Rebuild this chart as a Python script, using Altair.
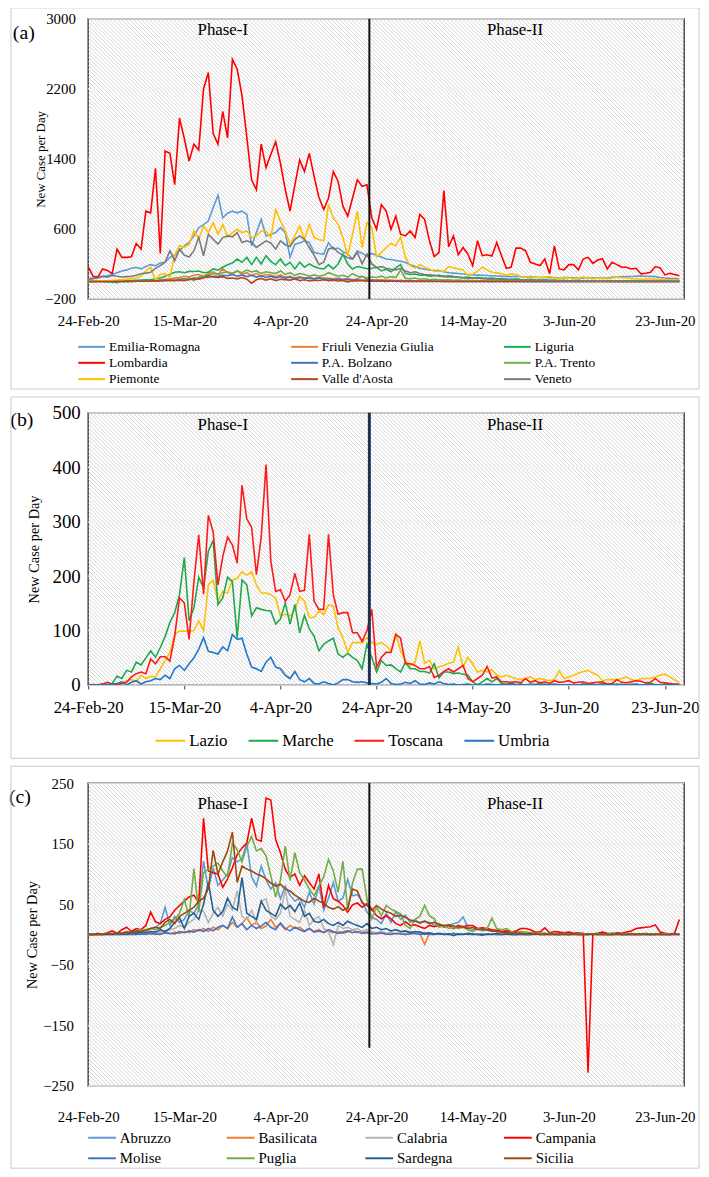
import altair as alt
import pandas as pd

FONT = "Liberation Serif"
DAYS = list(range(124))
X_TICKS = [0, 20, 40, 60, 80, 100, 120]
X_DOMAIN = [0, 124]
PHASE_DAY = 58.5
PHASE_LABELS = ["Phase-I", "Phase-II"]
PHASE_LABEL_DAYS = [28.0, 88.8]

# ---------------- panel (a) ----------------
A_NAMES = ["Emilia-Romagna", "Friuli Venezia Giulia", "Liguria", "Lombardia", "P.A. Bolzano",
           "P.A. Trento", "Piemonte", "Valle d'Aosta", "Veneto"]
A_COLORS = ["#5B9BD5", "#ED7D31", "#1AAF54", "#FF0000", "#4472C4", "#70AD47", "#FFC000", "#B5451B", "#7A7A7A"]
A_Y_TICKS = [-200, 600, 1400, 2200, 3000]

emilia = [30, 40, 55, 60, 64, 80, 100, 120, 132, 150,
          162, 143, 170, 192, 180, 210, 219, 275, 300, 350,
          407, 445, 520, 614, 650, 690, 841, 984, 728, 780,
          803, 784, 803, 765, 407, 560, 709, 520, 540, 558,
          614, 560, 275, 426, 440, 464, 445, 332, 320, 313,
          445, 369, 381, 340, 313, 256, 351, 320, 290, 320,
          300, 280, 256, 250, 240, 230, 219, 190, 170, 150,
          140, 130, 125, 124, 110, 100, 95, 90, 85, 80,
          75, 72, 70, 68, 65, 62, 60, 58, 55, 60,
          55, 52, 50, 49, 45, 48, 42, 45, 40, 42,
          45, 40, 42, 38, 45, 40, 42, 45, 40, 48,
          50, 52, 55, 57, 60, 62, 60, 58, 55, 45,
          40, 35, 32, 30]
friuli = [0, 0, 0, 0, 1, 2, 3, 2, 4, 5,
          6, 8, 5, 10, 10, 20, 25, 30, 40, 45,
          60, 50, 70, 80, 60, 90, 110, 80, 143, 100,
          90, 120, 80, 100, 70, 90, 60, 80, 70, 55,
          75, 50, 60, 40, 55, 35, 50, 30, 45, 40,
          35, 30, 40, 25, 35, 20, 30, 60, 25, 20,
          15, 20, 12, 15, 10, 12, 8, 10, 6, 8,
          5, 7, 4, 6, 3, 5, 4, 3, 5, 2,
          4, 3, 2, 3, 1, 2, 3, 1, 2, 1,
          2, 1, 0, 1, 2, 1, 0, 1, 1, 0,
          1, 0, 2, 1, 0, 1, 0, 1, 2, 0,
          1, 0, 1, 0, 2, 1, 0, 1, 0, 1,
          0, 1, 0, 1]
liguria = [0, 0, 2, 3, 0, -10, -15, 5, 8, 10,
           12, 15, 18, 20, 30, 40, 60, 80, 106, 110,
           100, 115, 113, 120, 100, 106, 143, 130, 162, 190,
           210, 256, 219, 275, 192, 275, 200, 294, 230, 192,
           256, 181, 219, 143, 219, 162, 200, 170, 150, 143,
           190, 143, 200, 313, 200, 143, 170, 160, 145, 150,
           162, 120, 140, 110, 155, 192, 90, 80, 85, 70,
           75, 60, 65, 70, 60, 65, 55, 50, 45, 50,
           40, 45, 40, 35, 38, 30, 32, 28, 25, 30,
           22, 20, 25, 18, 15, 20, 12, 15, 10, 12,
           8, 10, 12, 8, 10, 6, 8, 10, 6, 8,
           5, 6, 8, 5, 4, 6, 5, 8, 6, 4,
           5, 3, 4, 2]
lombardia = [170, 60, 49, 143, 125, 90, 369, 275, 275, 283,
             434, 369, 803, 784, 1293, 320, 1489, 1463, 1105, 1866,
             1633, 1376, 1568, 1501, 2198, 2387, 1689, 1568, 1942, 1640,
             2537, 2424, 2123, 1650, 1161, 1048, 1568, 1301, 1450, 1595,
             1350, 1050, 803, 1100, 1388, 1256, 1463, 1200, 962, 822,
             950, 1256, 1142, 860, 746, 954, 1161, 1086, 1105, 728,
             596, 878, 803, 596, 746, 539, 520, 577, 501, 765,
             709, 464, 283, 332, 1037, 396, 520, 305, 388, 313,
             181, 464, 294, 305, 290, 445, 294, 151, 162, 381,
             381, 351, 219, 200, 181, 256, 87, 407, 143, 132,
             192, 192, 132, 256, 275, 207, 245, 260, 143, 219,
             192, 162, 162, 143, 151, 87, 94, 106, 170, 155,
             75, 94, 79, 64]
bolzano = [0, 0, 0, 0, 0, 1, 0, 2, 1, 3,
           2, 4, 3, 5, 8, 10, 15, 12, 20, 25,
           30, 22, 40, 35, 50, 45, 60, 55, 70, 65,
           80, 60, 75, 55, 70, 50, 65, 45, 60, 40,
           55, 35, 50, 30, 45, 40, 35, 30, 40, 25,
           30, 20, 25, 18, 22, 15, 20, 12, 15, 10,
           12, 8, 10, 6, 8, 5, 6, 4, 5, 3,
           4, 3, 2, 3, 1, 2, 1, 2, 1, 1,
           0, 1, 1, 0, 1, 0, 1, 0, 0, 1,
           0, 0, 1, 0, 0, 1, 0, 0, 1, 0,
           0, 0, 1, 0, 0, 0, 1, 0, 0, 0,
           1, 0, 0, 0, 1, 0, 0, 0, 1, 0,
           0, 0, 1, 0]
trento = [0, 0, 0, 1, 0, 2, 0, 1, 2, 0,
          3, 2, 4, 3, 5, 5, 10, 15, 20, 25,
          10, 40, 11, 50, 60, 70, 90, 80, 100, 110,
          90, 120, 100, 130, 110, 120, 90, 110, 100, 90,
          120, 80, 100, 70, 90, 80, 60, 75, 60, 70,
          100, 80, 60, 70, 50, 90, 60, 55, 40, 50,
          45, 60, 40, 55, 45, 130, 35, 30, 40, 25,
          30, 20, 25, 20, 15, 18, 12, 15, 10, 12,
          8, 10, 6, 8, 5, 7, 4, 6, 3, 5,
          4, 3, 5, 2, 4, 3, 2, 4, 3, 2,
          3, 2, 1, 3, 2, 1, 2, 3, 1, 2,
          1, 2, 1, 0, 2, 1, 1, 2, 0, 1,
          1, 0, 1, 0]
piemonte = [0, 2, 5, 8, 3, 10, 15, 20, 25, 30,
            40, 60, 120, 162, 11, 80, 90, 49, 300, 407,
            390, 426, 577, 483, 633, 560, 671, 539, 652, 509,
            558, 596, 558, 577, 501, 520, 577, 577, 501, 822,
            690, 577, 426, 520, 633, 482, 652, 501, 480, 464,
            878, 728, 652, 500, 294, 539, 803, 388, 671, 614,
            283, 332, 388, 434, 407, 509, 275, 181, 155, 192,
            162, 140, 117, 117, 115, 170, 155, 143, 130, 68,
            85, 115, 162, 130, 106, 98, 87, 70, 87, 80,
            57, 50, 60, 49, 42, 49, 57, 42, 30, 49,
            42, 30, 42, 49, 42, 30, 38, 42, 30, 38,
            49, 42, 42, 30, 30, 25, 30, 28, 25, 25,
            22, 20, 20, 18]
valle = [0, 0, 0, 0, 0, 0, 1, 0, 2, 1,
         3, 2, 5, 4, 8, 6, 10, 12, 8, 15,
         11, 20, 30, 25, 40, 68, 50, 45, 55, 35,
         40, 30, 45, 25, -20, 20, 35, 15, 30, 10,
         25, 20, 15, 30, 10, 20, 5, 15, 10, 20,
         8, 15, 5, 10, -5, 8, 5, 10, 3, 6,
         2, 5, 1, 3, 2, 0, 1, 2, 0, 1,
         0, 1, 0, 0, 1, 0, 0, 1, 0, 0,
         0, 0, 1, 0, 0, 0, 0, 1, 0, 0,
         0, 0, 0, 1, 0, 0, 0, 0, 0, 0,
         1, 0, 0, 0, 0, 0, 0, 0, 1, 0,
         0, 0, 0, 0, 0, 0, 0, 1, 0, 0,
         0, 0, 0, 0]
veneto = [20, 30, 40, 57, 50, 68, 60, 50, 55, 57,
          70, 87, 95, 106, 150, 180, 219, 351, 237, 369,
          300, 280, 351, 501, 294, 539, 482, 426, 501, 520,
          510, 558, 445, 464, 445, 388, 426, 464, 440, 369,
          464, 420, 400, 482, 520, 482, 388, 300, 192, 219,
          369, 388, 332, 300, 270, 256, 332, 200, 313, 200,
          160, 170, 150, 140, 132, 150, 120, 100, 110, 90,
          80, 75, 70, 60, 55, 50, 55, 45, 40, 38,
          35, 40, 30, 28, 25, 30, 22, 20, 18, 20,
          15, 12, 15, 10, 12, 8, 10, 8, 6, 8,
          5, 6, 4, 5, 3, 6, 4, 3, 5, 2,
          4, 3, 5, 4, 2, 6, 5, 4, 8, 6,
          5, 4, 3, 5]
A_SERIES = [emilia, friuli, liguria, lombardia, bolzano, trento, piemonte, valle, veneto]

# ---------------- panel (b) ----------------
B_NAMES = ["Lazio", "Marche", "Toscana", "Umbria"]
B_COLORS = ["#FFC000", "#20A84A", "#FF1A1A", "#1F77C8"]
B_Y_TICKS = [0, 100, 200, 300, 400, 500]

lazio = [0, 0, 0, 1, 0, 2, 3, 5, 8, 10,
         6, 18, 12, 16, 15, 30, 45, 60, 93, 99,
         99, 99, 100, 118, 100, 184, 193, 154, 172, 169,
         193, 196, 208, 202, 208, 184, 169, 169, 166, 160,
         127, 130, 127, 137, 163, 154, 124, 124, 136, 130,
         147, 145, 105, 87, 60, 78, 78, 78, 87, 78,
         75, 78, 72, 63, 93, 63, 45, 36, 42, 81,
         40, 45, 30, 33, 36, 40, 42, 70, 33, 51,
         39, 24, 27, 24, 28, 18, 15, 18, 15, 12,
         10, 12, 15, 10, 12, 10, 8, 10, 26, 12,
         15, 18, 22, 25, 27, 22, 18, 8, 10, 10,
         10, 12, 15, 10, 8, 12, 12, 12, 15, 18,
         20, 15, 10, 5]
marche = [0, 0, 0, 2, 0, 3, 16, 12, 27, 24,
          42, 37, 50, 63, 51, 69, 89, 115, 133, 166,
          234, 118, 142, 198, 178, 246, 266, 148, 160, 198,
          190, 87, 193, 184, 127, 142, 139, 137, 136, 112,
          121, 151, 112, 148, 96, 128, 103, 90, 63, 75,
          81, 86, 57, 51, 58, 51, 45, 30, 75, 51,
          24, 45, 36, 37, 30, 24, 42, 30, 30, 25,
          25, 22, 39, 13, 24, 24, 21, 22, 20, 18,
          6, 0, 6, 12, 6, 12, 3, 2, 3, 1,
          2, 0, 2, 1, 3, 0, 1, 2, 0, 1,
          -2, 1, 0, 2, 1, 0, 1, 3, 0, 1,
          2, 1, 0, 2, 1, 0, 1, 3, 1, 0,
          2, 1, 0, 1]
toscana = [0, 1, 0, 2, 5, 2, 0, 3, 5, 15,
           21, 24, 21, 48, 39, 52, 52, 44, 90, 160,
           151, 84, 190, 276, 167, 312, 281, 184, 236, 272,
           257, 224, 367, 305, 290, 203, 272, 405, 227, 172,
           175, 154, 166, 205, 172, 174, 277, 154, 139, 139,
           277, 166, 130, 133, 133, 96, 96, 80, 100, 139,
           33, 51, 60, 60, 93, 86, 39, 39, 36, 30,
           30, 34, 14, 18, 25, 30, 24, 30, 36, 12,
           6, 12, 18, 34, 13, 15, 6, 6, 5, 6,
           4, 12, 5, 8, 4, 6, 3, 8, 5, 6,
           8, 4, 5, 6, 3, 4, 5, 6, 2, 3,
           10, 5, 4, 6, 8, 7, 4, 5, 12, 5,
           4, 3, 2, 2]
umbria = [0, 0, 0, 0, 1, 2, 3, 6, 0, 5,
          8, 2, 6, 8, 12, 10, 18, 12, 30, 36,
          27, 39, 50, 66, 87, 62, 60, 57, 70, 63,
          93, 84, 86, 57, 33, 30, 25, 42, 51, 33,
          30, 18, 12, 25, 10, 6, 12, 3, 2, 6,
          3, 0, 4, 10, 10, 6, 5, 6, 4, 3,
          2, 5, 12, 3, 1, 2, 5, 3, 8, 2,
          1, 4, 2, 6, 3, 1, 2, 0, 1, 2,
          0, 1, 0, 2, 1, 0, 1, 0, 2, 0,
          1, 0, 0, 1, 0, 2, 0, 1, 0, 0,
          1, 0, 0, 2, 0, 1, 0, 0, 1, 0,
          0, 1, 0, 0, 2, 0, 1, 0, 0, 1,
          0, 0, 1, 0]
B_SERIES = [lazio, marche, toscana, umbria]

# ---------------- panel (c) ----------------
C_NAMES = ["Abruzzo", "Basilicata", "Calabria", "Campania", "Molise", "Puglia", "Sardegna", "Sicilia"]
C_COLORS = ["#5B9BD5", "#ED7D31", "#B4B4B4", "#FF0000", "#4472C4", "#70AD47", "#255E91", "#9E480E"]
C_Y_TICKS = [-250, -150, -50, 50, 150, 250]

abruzzo = [0, 0, 0, 1, 0, 2, 1, 3, 2, 5,
           4, 8, 6, 10, 12, 18, 45, 15, 30, 20,
           25, 40, 35, 50, 121, 75, 110, 81, 90, 100,
           127, 120, 125, 151, 95, 80, 113, 90, 75, 85,
           59, 80, 65, 55, 60, 45, 70, 50, 81, 40,
           60, 86, 55, 60, 91, 64, 66, 55, 37, 28,
           25, 18, 35, 20, 38, 25, 32, 20, 25, 18,
           22, 20, 15, 18, 12, 15, 18, 20, 29, 12,
           8, 10, 6, 8, 5, 6, 4, 6, 3, 5,
           2, 3, 1, 2, 1, 3, 0, 1, 2, 1,
           0, 1, 2, 0, 1, 0, 1, 2, 0, 1,
           0, 1, 0, 2, 1, 0, 1, 0, 1, 0,
           1, 0, 0, 1]
basilicata = [0, 0, 0, 0, 0, 0, 0, 0, 1, 0,
              1, 0, 2, 1, 0, 2, 3, 1, 4, 2,
              5, 3, 8, 6, 10, 5, 12, 8, 15, 10,
              20, 12, 18, 28, 15, 20, 10, 14, 25, 12,
              18, 8, 15, 10, 12, 6, 10, 5, 8, 4,
              6, 3, 5, 2, 4, 8, 3, 5, 2, 3,
              1, 2, 0, 3, 1, 2, 0, 5, 1, 2,
              -16, 2, 1, 0, 1, 0, 2, 0, 1, 0,
              0, 1, 0, 0, 1, 0, 0, 0, 1, 0,
              0, 0, 0, 1, 0, 0, 0, 0, 0, 1,
              0, 0, 0, 0, 0, 0, 1, 0, 0, 0,
              0, 0, 1, 0, 0, 0, 0, 0, 0, 0,
              0, 0, 0, 0]
calabria = [0, 0, 0, 0, 0, 1, 0, 0, 2, 1,
            0, 2, 1, 3, 2, 4, 5, 8, 10, 15,
            12, 20, 25, 40, 38, 20, 35, 45, 30, 50,
            40, 72, 30, 25, 40, 20, 55, 59, 30, 25,
            35, 75, 30, 25, 20, 40, 15, 25, 30, 10,
            5, -17, 15, 10, 12, 8, 10, 5, 8, 5,
            3, 5, 2, 4, 1, 3, 2, 1, 3, 0,
            2, 1, 0, 1, 2, 0, 1, 0, 1, 0,
            0, 1, 0, 0, 1, 0, 0, 1, 0, 0,
            0, 0, 1, 0, 0, 0, 1, 0, 0, 0,
            0, 0, 0, 1, 0, 0, 0, 0, 1, 0,
            0, 0, 0, 0, 1, 0, 0, 0, 0, 0,
            0, 1, 0, 0]
campania = [0, 0, 2, 0, 3, 6, 2, 8, 12, 5,
            10, 8, 15, 37, 21, 18, 25, 29, 40, 48,
            55, 62, 65, 53, 192, 105, 102, 100, 78, 92,
            110, 132, 143, 151, 192, 157, 154, 225, 222, 157,
            135, 108, 94, 100, 81, 97, 86, 75, 100, 45,
            81, 59, 55, 48, 37, 49, 52, 45, 51, 42,
            31, 26, 31, 26, 18, 15, 21, 15, 16, 13,
            10, 15, 13, 15, 13, 15, 10, 15, 13, 15,
            15, 10, 11, 10, 8, 7, 5, 6, 4, 6,
            10, 10, 8, 4, 4, 11, 3, 5, 4, 3,
            4, 2, 3, 2, -228, 1, 2, 4, 2, 1,
            3, 2, 4, 6, 10, 11, 12, 13, 16, 4,
            2, 1, 2, 25]
molise = [0, 0, 0, 0, 0, 0, 0, 0, 0, 0,
          0, 1, 0, 2, 1, 0, 3, 2, 1, 5,
          3, 6, 4, 8, 5, 10, 6, 12, 15, 10,
          29, 12, 18, 8, 15, 10, 14, 20, 12, 8,
          19, 10, 6, 12, 8, 5, 10, 4, 6, 3,
          8, 5, 2, 4, 6, 3, 5, 2, 4, 1,
          2, 3, 1, 0, 2, 1, 0, 1, 2, 0,
          1, 0, 0, 1, 0, 0, 2, 0, 0, 1,
          0, 0, 1, 0, 0, 0, 0, 1, 0, 0,
          0, 0, 0, 0, 1, 0, 0, 0, 0, 0,
          0, 0, 0, 0, 0, 1, 0, 0, 0, 0,
          0, 0, 0, 0, 0, 0, 0, 0, 1, 0,
          0, 0, 0, 0]
puglia = [0, 0, 0, 1, 2, 0, 3, 2, 5, 3,
          6, 8, 5, 10, 8, 12, 15, 20, 25, 35,
          58, 29, 109, 37, 102, 108, 113, 118, 105, 95,
          151, 140, 120, 145, 162, 138, 142, 130, 97, 62,
          90, 146, 89, 135, 102, 90, 75, 64, 80, 95,
          124, 105, 70, 121, 40, 85, 108, 108, 59, 26,
          45, 31, 48, 42, 38, 34, 15, 10, 25, 30,
          48, 31, 26, 12, 15, 10, 12, 10, 12, 8,
          5, 10, 8, 10, 27, 10, 8, 10, 5, 3,
          5, 4, 3, 2, 3, 1, 2, 1, 0, 2,
          1, 0, 2, 1, 0, 1, 2, 0, 1, 3,
          1, 0, 2, 1, 0, 1, 2, 1, 0, 1,
          2, 0, 1, 0]
sardegna = [0, 0, 0, 0, 1, 0, 2, 1, 0, 3,
            2, 4, 3, 5, 4, 8, 5, 10, 20, 28,
            10, 30, 35, 25, 50, 86, 40, 30, 38, 60,
            45, 40, 94, 35, 30, 25, 55, 40, 35, 30,
            50, 42, 48, 38, 52, 30, 35, 22, 20, 25,
            18, 15, 20, 15, 22, 18, 15, 12, 18, 10,
            12, 8, 10, 6, 8, 5, 6, 3, 5, 4,
            2, 3, 1, 2, 0, 1, -2, 1, 0, 2,
            1, 0, -1, 1, 0, 2, 0, 1, 0, 0,
            1, 0, 0, 1, 0, 0, 1, 0, 0, 0,
            0, 1, 0, 0, 0, 1, 0, 0, 0, 0,
            1, 0, 0, 0, 0, 1, 0, 0, 0, 0,
            0, 0, 1, 0]
sicilia = [0, 0, 1, 0, 2, 1, 3, 2, 4, 3,
           6, 5, 8, 10, 12, 10, 20, 25, 18, 30,
           35, 40, 45, 55, 60, 75, 139, 100, 120, 138,
           169, 86, 113, 108, 105, 100, 97, 92, 85, 80,
           83, 75, 72, 65, 60, 55, 53, 60, 55, 52,
           45, 42, 46, 40, 44, 75, 72, 52, 48, 40,
           48, 42, 38, 35, 30, 32, 28, 24, 22, 20,
           22, 18, 20, 17, 15, 16, 14, 12, 13, 10,
           12, 8, 9, 7, 6, 5, 4, 3, 2, 3,
           2, 1, 2, 1, 0, 1, 0, 1, 0, 1,
           0, 1, 0, 0, 1, 0, 0, 1, 0, 0,
           1, 0, 0, 1, 0, 0, 1, 0, 0, 1,
           0, 0, 1, 0]
C_SERIES = [abruzzo, basilicata, calabria, campania, molise, puglia, sardegna, sicilia]

# ---------------- styling ----------------
W = 602
HATCH_SPACING = 4.0
HATCH_COLOR = "#c6c6c6"
GRID_COLOR = "#f4efef"
BORDER_COLOR = "#c9c9c9"
LABEL_EXPR = "timeFormat(datetime(2020, 1, 24 + datum.value), '%-d-%b-%y')"
ONE = pd.DataFrame({"k": [0]})
SYM_AREA = 100  # nominal symbol area; the drawn stroke length is set by the path


def long_frame(names, series):
    rows = []
    for name, vals in zip(names, series):
        assert len(vals) == len(DAYS), (name, len(vals))
        for d, v in zip(DAYS, vals):
            rows.append({"day": d, "value": v, "region": name})
    return pd.DataFrame(rows)


def make_legend(lg):
    fs = lg["font"]
    r = SYM_AREA ** 0.5 / 2
    c = fs / 2
    L = lg["symlen"]
    path = f"M{-c / r:.3f},0H{(L - c) / r:.3f}"
    return alt.Legend(title=None, orient="none", legendX=lg["x"], legendY=lg["y"] - c,
                      direction="horizontal", columns=lg["columns"], gridAlign=lg["align"],
                      columnPadding=lg["colpad"], rowPadding=lg["rowpad"],
                      symbolType=path, symbolSize=SYM_AREA, symbolStrokeWidth=2,
                      labelFont=FONT, labelFontSize=fs, labelColor="black",
                      labelOffset=L + 4 - fs, labelLimit=300)


def panel(tag, names, colors, series, y_dom, y_ticks, H, p):
    df = long_frame(names, series)
    xscale = alt.Scale(domain=X_DOMAIN, nice=False, zero=False)
    yscale = alt.Scale(domain=y_dom, nice=False, zero=False)
    xaxis = alt.Axis(values=X_TICKS, labelExpr=LABEL_EXPR, title=None, grid=False, domain=False,
                     ticks=p["xtick"] > 0, tickSize=p["xtick"], tickColor="#404040",
                     labelFont=FONT, labelFontSize=p["xlab"], labelColor="black",
                     labelPadding=p["xpad"], labelFlush=False, labelOverlap=False)
    yaxis = alt.Axis(values=y_ticks, format="d", title="New Case per Day", titleFont=FONT,
                     titleFontSize=p["ytitle"], titleFontWeight="normal", titleColor="black",
                     titleX=p["ytitle_x"], titleY=H / 2, titleAngle=270, titleAlign="center",
                     titleBaseline="middle", grid=False, domain=False, ticks=False, tickSize=0,
                     labelFont=FONT, labelFontSize=p["ylab"], labelColor="black",
                     labelPadding=p["ypad"], labelFlush=False, labelOverlap=False)

    ppd = W / (X_DOMAIN[1] - X_DOMAIN[0])
    span = H / ppd
    step = HATCH_SPACING / ppd
    n = int((W + H) / HATCH_SPACING) + 3
    hatch = alt.Chart(alt.sequence(0, n, as_="k")).transform_calculate(
        hx=f"{X_DOMAIN[0] - span} + datum.k * {step}"
    ).transform_calculate(
        hx2=f"datum.hx + {span}"
    ).mark_rule(clip=True, stroke=HATCH_COLOR, strokeWidth=0.75).encode(
        x=alt.X("hx:Q", scale=xscale, axis=xaxis),
        x2="hx2:Q",
        y=alt.Y(datum=y_dom[1], scale=yscale, axis=yaxis),
        y2=alt.datum(y_dom[0]),
    )

    grid = alt.Chart(pd.DataFrame({"v": y_ticks})).mark_rule(
        stroke=GRID_COLOR, strokeWidth=1.3).encode(
        y=alt.Y("v:Q", scale=yscale, axis=yaxis))

    lines = alt.Chart(df).mark_line(strokeWidth=1.6, clip=True).encode(
        x=alt.X("day:Q", scale=xscale, axis=xaxis),
        y=alt.Y("value:Q", scale=yscale, axis=yaxis),
        color=alt.Color("region:N", scale=alt.Scale(domain=names, range=colors),
                        legend=make_legend(p["legend"])),
        order=alt.Order("day:Q"),
    )

    pline = alt.Chart(ONE).mark_rule(color=p["phase_color"], strokeWidth=p["phase_w"]).encode(
        x=alt.datum(PHASE_DAY), y=alt.datum(y_dom[1]), y2=alt.datum(p["phase_y2"]))

    ptext = alt.Chart(pd.DataFrame({"label": PHASE_LABELS, "day": PHASE_LABEL_DAYS})).mark_text(
        font=FONT, fontSize=17, color="black", baseline="middle", align="center").encode(
        x=alt.X("day:Q", scale=xscale, axis=xaxis), y=alt.value(p["ptext_y"]), text="label:N")

    tagt = alt.Chart(ONE).mark_text(text=tag, font=FONT, fontSize=20, color="black",
                                    baseline="middle", align="center").encode(
        x=alt.value(p["tag_x"]), y=alt.value(p["tag_y"]))

    b = p["border"]
    border = alt.Chart(ONE).mark_rect(fill="transparent", stroke=BORDER_COLOR, strokeWidth=1).encode(
        x=alt.value(b[0]), x2=alt.value(b[1]), y=alt.value(b[2]), y2=alt.value(b[3]))

    return alt.layer(hatch, grid, lines, pline, ptext, tagt, border).properties(width=W, height=H)


pa = panel("(a)", A_NAMES, A_COLORS, A_SERIES, [-200, 3000], A_Y_TICKS, 283, dict(
    xtick=0, xlab=15, xpad=15, ytitle=13, ytitle_x=-48, ylab=15, ypad=13,
    legend=dict(x=-10, y=331, columns=3, align="all", colpad=66, rowpad=1.5, symlen=27, font=13.5),
    phase_color="#111111", phase_w=2, phase_y2=-200, ptext_y=11, tag_x=-65, tag_y=14,
    border=[-78, 617, -11, 374]))

pb = panel("(b)", B_NAMES, B_COLORS, B_SERIES, [0, 500], B_Y_TICKS, 275, dict(
    xtick=4, xlab=17, xpad=11, ytitle=14.5, ytitle_x=-54, ylab=19, ypad=8,
    legend=dict(x=68, y=331, columns=4, align="each", colpad=17, rowpad=2, symlen=30, font=17),
    phase_color="#1F3050", phase_w=3, phase_y2=0, ptext_y=12, tag_x=-67, tag_y=7,
    border=[-78, 617, -16, 349]))

pc = panel("(c)", C_NAMES, C_COLORS, C_SERIES, [-250, 250], C_Y_TICKS, 306, dict(
    xtick=0, xlab=15, xpad=24, ytitle=14.5, ytitle_x=-56, ylab=15, ypad=15,
    legend=dict(x=0, y=358, columns=4, align="all", colpad=43, rowpad=5, symlen=28, font=15),
    phase_color="#111111", phase_w=2, phase_y2=-187, ptext_y=21, tag_x=-69, tag_y=14,
    border=[-78, 617, -17, 389]))

chart = alt.vconcat(pa, pb, pc, spacing=4).resolve_scale(color="independent").properties(
    padding={"top": -8, "left": 0, "right": 0, "bottom": 0}
).configure_view(stroke="#404040", strokeWidth=1.5)

chart.save("out.html", embed_options={"renderer": "svg", "actions": False})
